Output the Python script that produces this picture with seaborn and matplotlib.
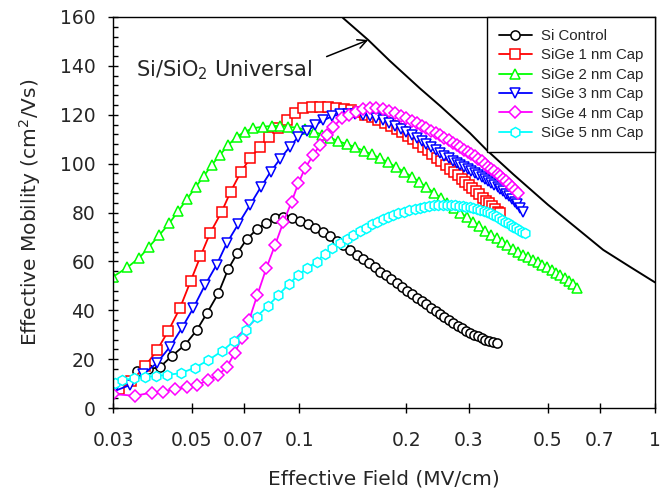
import matplotlib
matplotlib.use("Agg")
import matplotlib.pyplot as plt
import seaborn as sns
import pandas as pd
from matplotlib.ticker import FixedLocator, NullLocator, MultipleLocator

# ---------------- data ----------------
# Si control
E_si = [0.0350, 0.0377, 0.0407, 0.0439, 0.0478, 0.0516, 0.0552, 0.0593, 0.0632, 0.0670,
        0.0712, 0.0760, 0.0807, 0.0856, 0.0903, 0.0955, 0.1006,
        0.106, 0.111, 0.117, 0.122, 0.128, 0.133, 0.139, 0.145, 0.151, 0.157,
        0.163, 0.169, 0.175, 0.181, 0.188, 0.194, 0.201, 0.207, 0.214, 0.221,
        0.228, 0.235, 0.242, 0.249, 0.256, 0.264, 0.271, 0.279, 0.286, 0.294,
        0.302, 0.310, 0.318, 0.326, 0.334, 0.342, 0.350, 0.359]
mu_si = [15.3, 15.8, 16.8, 21.3, 25.8, 31.9, 39.0, 46.9, 56.8, 63.3,
         69.0, 73.1, 75.6, 77.6, 78.3, 77.9, 76.5,
         75.2, 73.8, 72.0, 70.3, 68.3, 66.5, 64.6, 62.6, 60.8, 59.2,
         57.5, 55.8, 54.3, 52.8, 51.1, 49.6, 48.0, 46.7, 45.2, 43.8,
         42.4, 41.0, 39.7, 38.4, 37.1, 35.9, 34.8, 33.7, 32.7, 31.7,
         30.8, 30.0, 29.3, 28.6, 28.0, 27.5, 27.1, 26.8]

# SiGe, 1 nm cap
E_1nm = [0.0311, 0.0338, 0.0369, 0.0399, 0.0429, 0.0463, 0.0496, 0.0528, 0.0562, 0.0606,
         0.0642, 0.0687, 0.0728, 0.0776, 0.0825, 0.0874, 0.0922, 0.0975, 0.1027, 0.1084,
         0.1145, 0.1207,
         0.127, 0.1335, 0.140, 0.1465, 0.153, 0.160, 0.167, 0.174, 0.181, 0.188,
         0.195, 0.202, 0.209, 0.216, 0.223, 0.230, 0.237, 0.244, 0.251, 0.258,
         0.265, 0.272, 0.279, 0.286, 0.293, 0.300, 0.307, 0.314, 0.321, 0.328,
         0.335, 0.342, 0.349, 0.356, 0.362, 0.367]
mu_1nm = [7.6, 11.0, 17.0, 23.7, 31.5, 41.0, 52.0, 62.0, 71.5, 80.3,
          88.5, 96.7, 102.1, 106.9, 111.0, 114.4, 117.9, 120.8, 122.6, 123.0,
          123.3, 123.0,
          122.8, 122.4, 121.8, 121.0, 120.1, 119.1, 118.0, 116.8, 115.5, 114.2,
          112.8, 111.4, 109.9, 108.4, 106.9, 105.4, 103.9, 102.4, 100.9, 99.4,
          98.0, 96.6, 95.2, 93.9, 92.6, 91.3, 90.0, 88.7, 87.4, 86.1,
          84.9, 83.7, 82.5, 81.3, 80.4, 79.7]

# SiGe, 2 nm cap
E_2nm = [0.0300, 0.0329, 0.0356, 0.0379, 0.0405, 0.0432, 0.0458, 0.0485, 0.0513, 0.0540,
         0.0568, 0.0599, 0.0632, 0.0668, 0.0705, 0.0743, 0.0790, 0.0837, 0.0883, 0.0932,
         0.0985, 0.104, 0.110, 0.116, 0.122, 0.129, 0.136, 0.144, 0.152, 0.160,
         0.169, 0.178, 0.187, 0.197, 0.207, 0.217, 0.228, 0.239, 0.250, 0.261,
         0.272, 0.284, 0.296, 0.308, 0.320, 0.333, 0.346, 0.359, 0.372, 0.385,
         0.398, 0.412, 0.426, 0.440, 0.454, 0.468, 0.482, 0.497, 0.512, 0.527,
         0.542, 0.557, 0.572, 0.587, 0.602]
mu_2nm = [53.7, 57.5, 61.5, 66.0, 70.8, 75.6, 80.7, 85.6, 90.6, 94.9,
          99.4, 103.5, 107.6, 111.0, 113.1, 114.5, 115.1, 115.4, 115.4, 115.1,
          114.7, 114.0, 113.0, 111.9, 110.6, 109.2, 108.0, 106.7, 105.2, 103.8,
          102.2, 100.5, 98.6, 96.7, 94.7, 92.6, 90.3, 88.1, 86.0, 84.0,
          82.0, 80.0, 78.0, 76.1, 74.3, 72.6, 70.9, 69.4, 67.9, 66.5,
          65.2, 63.9, 62.6, 61.6, 60.6, 59.6, 58.6, 57.6, 56.5, 55.4,
          54.3, 53.2, 52.0, 50.6, 49.0]

# SiGe, 3 nm cap
E_3nm = [0.0300, 0.0335, 0.0365, 0.0398, 0.0434, 0.0468, 0.0504, 0.0544, 0.0587, 0.0626,
         0.0675, 0.0728, 0.0780, 0.0832, 0.0883, 0.0942, 0.0995,
         0.1050, 0.1110, 0.1170, 0.1235, 0.130, 0.137, 0.144, 0.151, 0.158, 0.165,
         0.172, 0.179, 0.186, 0.193, 0.200, 0.207, 0.214, 0.221, 0.228, 0.235,
         0.242, 0.249, 0.256, 0.263, 0.270, 0.277, 0.284, 0.291, 0.298, 0.305,
         0.312, 0.319, 0.326, 0.333, 0.340, 0.347, 0.354, 0.361, 0.368, 0.375,
         0.382, 0.389, 0.396, 0.403, 0.410, 0.417, 0.426]
mu_3nm = [6.7, 9.4, 13.9, 18.3, 25.1, 32.6, 40.8, 50.3, 58.7, 67.4,
          75.3, 83.1, 90.3, 96.7, 101.8, 106.9, 111.0,
          113.4, 115.8, 117.7, 119.3, 120.2, 120.5, 120.5, 120.1, 119.5, 118.7,
          117.8, 116.8, 115.6, 114.3, 113.0, 111.7, 110.4, 109.2, 108.0, 106.8,
          105.6, 104.4, 103.3, 102.2, 101.0, 100.2, 99.4, 98.6, 97.8, 97.0,
          96.2, 95.4, 94.6, 93.8, 93.0, 92.1, 91.3, 90.5, 89.6, 88.7,
          87.7, 86.7, 85.6, 84.5, 83.3, 82.0, 80.3]

# SiGe, 4 nm cap
E_4nm = [0.0300, 0.0346, 0.0385, 0.0415, 0.0448, 0.0483, 0.0518, 0.0556, 0.0593, 0.0626,
         0.0660, 0.0690, 0.0724, 0.0763, 0.0809, 0.0855, 0.0903, 0.0953, 0.0995, 0.1039,
         0.1096, 0.1144, 0.1195, 0.1247, 0.1317,
         0.138, 0.1445, 0.151, 0.158, 0.165, 0.172, 0.179, 0.186, 0.193, 0.200,
         0.207, 0.214, 0.221, 0.228, 0.235, 0.242, 0.249, 0.256, 0.263, 0.270,
         0.277, 0.284, 0.291, 0.298, 0.305, 0.312, 0.319, 0.326, 0.333, 0.340,
         0.347, 0.354, 0.361, 0.368, 0.375, 0.382, 0.389, 0.396, 0.403, 0.4125]
mu_4nm = [5.7, 5.0, 6.3, 6.7, 7.7, 8.5, 9.4, 11.5, 13.5, 16.7,
          22.6, 28.7, 36.0, 46.2, 57.2, 66.5, 76.0, 84.4, 91.9, 98.1,
          103.5, 107.6, 111.7, 115.1, 118.5,
          120.0, 121.3, 122.2, 122.6, 122.6, 122.2, 121.4, 120.6, 119.6, 118.6,
          117.6, 116.5, 115.4, 114.4, 113.4, 112.5, 111.6, 110.6, 109.6, 108.6,
          107.6, 106.6, 105.7, 104.8, 103.9, 103.0, 102.0, 100.9, 99.8, 98.8,
          97.8, 96.8, 95.8, 94.8, 93.8, 92.7, 91.6, 90.4, 89.2, 87.9]

# SiGe, 5 nm cap
E_5nm = [0.0304, 0.0318, 0.0343, 0.0369, 0.0396, 0.0425, 0.0466, 0.0510, 0.0556, 0.0606,
         0.0656, 0.0709, 0.0760, 0.0819, 0.0874, 0.0936, 0.0995, 0.1052, 0.1121, 0.1182,
         0.124, 0.130, 0.136, 0.142, 0.148, 0.154, 0.160, 0.166, 0.172, 0.178,
         0.184, 0.190, 0.197, 0.204, 0.211, 0.218, 0.225, 0.232, 0.239, 0.246,
         0.253, 0.260, 0.267, 0.274, 0.281, 0.288, 0.295, 0.302, 0.309, 0.316,
         0.323, 0.330, 0.337, 0.344, 0.351, 0.358, 0.365, 0.372, 0.379, 0.386,
         0.393, 0.400, 0.407, 0.414, 0.422, 0.431]
mu_5nm = [10.4, 11.4, 12.1, 12.6, 13.1, 13.5, 14.3, 16.5, 19.6, 23.2,
          27.3, 31.8, 37.4, 41.8, 46.2, 50.7, 54.4, 57.2, 59.9, 63.0,
          65.5, 67.5, 69.3, 70.9, 72.4, 73.8, 75.1, 76.2, 77.2, 78.1,
          78.9, 79.6, 80.3, 80.9, 81.5, 82.0, 82.4, 82.7, 83.0, 83.1,
          83.2, 83.2, 83.1, 83.0, 82.8, 82.6, 82.4, 82.1, 81.8, 81.4,
          81.0, 80.6, 80.2, 79.6, 79.0, 78.4, 77.7, 77.0, 76.3, 75.6,
          74.9, 74.2, 73.5, 72.8, 72.1, 71.5]

# Si/SiO2 universal mobility curve
E_univ = [0.128, 0.1331, 0.1564, 0.18, 0.2185, 0.25, 0.302, 0.3364, 0.4, 0.5,
          0.6, 0.7153, 0.85, 1.0]
mu_univ = [162.5, 159.5, 150.6, 142.0, 130.8, 123.4, 112.5, 105.6, 95.6, 83.2,
           73.8, 64.7, 57.8, 51.4]

labels = ["Si Control", "SiGe 1 nm Cap", "SiGe 2 nm Cap",
          "SiGe 3 nm Cap", "SiGe 4 nm Cap", "SiGe 5 nm Cap"]
x_ticks = [0.03, 0.05, 0.07, 0.1, 0.2, 0.3, 0.5, 0.7, 1]
x_tick_labels = ["0.03", "0.05", "0.07", "0.1", "0.2", "0.3", "0.5", "0.7", "1"]

# ---------------- style ----------------
sns.set_style("ticks")
plt.rcParams["font.family"] = ["DejaVu Sans"]
plt.rcParams["mathtext.fontset"] = "dejavusans"

colors = ["#000000", "#ff0000", "#00ff00", "#0000ff", "#ff00ff", "#00ffff"]
markers = ["o", "s", "^", "v", "D", "h"]
msizes = [6.6, 6.6, 7.2, 7.2, 5.9, 7.2]

fig = plt.figure(figsize=(6.61, 5.0), dpi=100)
ax = fig.add_axes([113 / 661, 92 / 500, 542 / 661, 391 / 500])

# universal curve first, so the legend box sits over it
sns.lineplot(x=E_univ, y=mu_univ, ax=ax, color="black", linewidth=1.4,
             estimator=None, sort=False, errorbar=None)

curves = [(E_si, mu_si), (E_1nm, mu_1nm), (E_2nm, mu_2nm),
          (E_3nm, mu_3nm), (E_4nm, mu_4nm), (E_5nm, mu_5nm)]
for (e, m), lab, c, mk, ms in zip(curves, labels, colors, markers, msizes):
    df = pd.DataFrame({"field": e, "mobility": m})
    sns.lineplot(data=df, x="field", y="mobility", ax=ax, color=c, linewidth=1.3,
                 marker=mk, markersize=ms, markerfacecolor="white",
                 markeredgecolor=c, markeredgewidth=1.1, label=lab,
                 estimator=None, sort=False, errorbar=None)

# annotation for the universal curve
ax.annotate("", xy=(0.1564, 150.6), xytext=(0.1195, 143.8),
            arrowprops=dict(arrowstyle="->", color="black", lw=1.1,
                            mutation_scale=16, shrinkA=0, shrinkB=0))
ax.text(0.0348, 138.3, "Si/SiO$_2$ Universal", fontsize=15,
        ha="left", va="center")

# axes
ax.set_xscale("log")
ax.set_xlim(0.03, 1)
ax.set_ylim(0, 160)
ax.xaxis.set_major_locator(FixedLocator(x_ticks))
ax.xaxis.set_minor_locator(NullLocator())
ax.set_xticklabels(x_tick_labels)
ax.yaxis.set_major_locator(MultipleLocator(20))
ax.yaxis.set_minor_locator(MultipleLocator(4))

ax.tick_params(which="both", bottom=True, left=True, top=False, right=False,
               color="black", width=1.0)
ax.tick_params(which="major", direction="inout", length=7.5, labelsize=13.5)
ax.tick_params(axis="x", which="major", pad=13)
ax.tick_params(axis="y", which="major", pad=9)
ax.tick_params(axis="y", which="minor", direction="in", length=3.6)
for sp in ax.spines.values():
    sp.set_visible(True)
    sp.set_linewidth(1.0)
    sp.set_color("black")

ax.set_xlabel("Effective Field (MV/cm)", fontsize=14.5, labelpad=14)
ax.set_ylabel("Effective Mobility (cm$^2$/Vs)", fontsize=14.5, labelpad=12)

leg = ax.legend(loc="upper right", borderaxespad=0, frameon=True, fancybox=False,
                edgecolor="black", framealpha=1, handlelength=2.2,
                handletextpad=0.6, labelspacing=0.36, borderpad=0.8,
                prop={"family": "Liberation Sans", "size": 10.8})
leg.get_frame().set_linewidth(1.0)

fig.savefig("out.png", dpi=100)
